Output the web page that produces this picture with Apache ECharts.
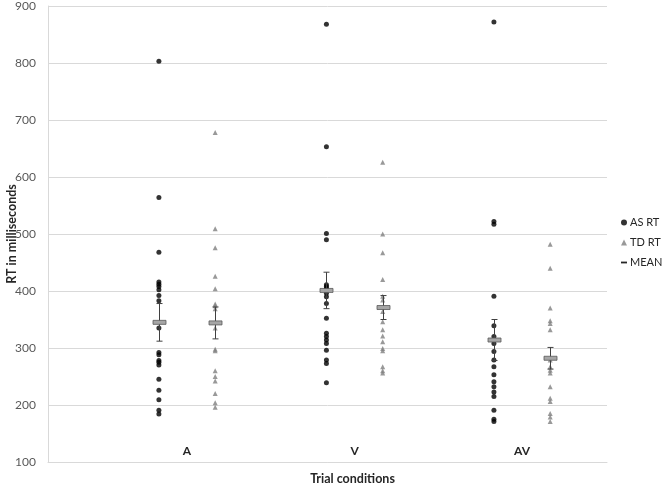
<!DOCTYPE html>
<html>
<head>
<meta charset="utf-8">
<script src="https://cdn.jsdelivr.net/npm/echarts@6/dist/echarts.min.js"></script>
<style>html,body{margin:0;padding:0;background:#fff;}#c{width:664px;height:484px;}</style>
</head>
<body>
<div id="c"></div>
<script>
var categories = ['A', 'V', 'AV'];
var yTicks = [100, 200, 300, 400, 500, 600, 700, 800, 900];

var asA  = [803, 564, 468, 416, 412, 408, 402, 392, 383, 335, 292, 288, 278, 275, 270, 245, 226, 209, 191, 184];
var asV  = [868, 653, 501, 490, 411, 408, 405, 402, 396, 390, 378, 352, 326, 320, 314, 308, 296, 279, 273, 239];
var asAV = [872, 522, 517, 391, 339, 320, 308, 294, 279, 267, 253, 241, 232, 223, 215, 191, 175, 171];

var tdA  = [678, 509, 476, 426, 404, 377, 374, 369, 335, 298, 295, 260, 250, 242, 220, 204, 196];
var tdV  = [626, 500, 467, 420, 391, 384, 364, 346, 332, 321, 311, 299, 295, 267, 260, 256];
var tdAV = [482, 440, 370, 348, 343, 332, 279, 267, 261, 256, 232, 212, 206, 185, 179, 171];

var asMean = [345, 401, 314];
var asErr  = [33, 32, 36];
var tdMean = [344, 371, 282];
var tdErr  = [28, 21, 19];

var OFF = 0.168;
var asGroups = [asA, asV, asAV];
var tdGroups = [tdA, tdV, tdAV];

function pts(groups, off) {
  var out = [];
  groups.forEach(function (g, i) {
    g.forEach(function (v) { out.push([i + 1 + off, v]); });
  });
  return out;
}
var meanData = [];
categories.forEach(function (c, i) {
  meanData.push([i + 1 - OFF, asMean[i], asErr[i]]);
  meanData.push([i + 1 + OFF, tdMean[i], tdErr[i]]);
});

var font = 'Lato, "Open Sans", sans-serif';
var chart = echarts.init(document.getElementById('c'));
chart.setOption({
  animation: false,
  textStyle: { fontFamily: font },
  grid: { left: 48, right: 57, top: 6, bottom: 22, containLabel: false, outerBoundsMode: 'none' },
  legend: {
    orient: 'vertical',
    left: 621,
    top: 216,
    itemWidth: 6,
    itemHeight: 6,
    itemGap: 7,
    padding: 0,
    textStyle: { fontSize: 11, color: '#262626', fontFamily: font, lineHeight: 13, padding: [0, 0, 0, -2] },
    data: [
      { name: 'AS RT', icon: 'circle' },
      { name: 'TD RT', icon: 'triangle' },
      { name: 'MEAN', icon: 'path://M0,0h10v3h-10z', itemStyle: { color: '#262626', borderWidth: 0 } }
    ]
  },
  xAxis: {
    type: 'value',
    min: 0.17,
    max: 3.507,
    name: 'Trial conditions',
    nameLocation: 'middle',
    nameGap: 10,
    nameMoveOverlap: false,
    nameTextStyle: { fontSize: 12.5, fontWeight: 'bold', color: '#262626', padding: [0, 0, 0, 50] },
    splitLine: { show: false },
    axisTick: { show: false },
    axisLine: { show: true, lineStyle: { color: '#d9d9d9' } },
    axisLabel: {
      customValues: [1, 2, 3],
      margin: -17,
      fontSize: 12,
      fontWeight: 'bold',
      color: '#262626',
      formatter: function (v) { return categories[Math.round(v) - 1] || ''; }
    }
  },
  yAxis: {
    type: 'value',
    min: yTicks[0],
    max: yTicks[yTicks.length - 1],
    interval: 100,
    name: 'RT in milliseconds',
    nameLocation: 'middle',
    nameGap: 30,
    nameMoveOverlap: false,
    nameTextStyle: { fontSize: 12.5, fontWeight: 'bold', color: '#262626' },
    axisLine: { show: true, lineStyle: { color: '#d9d9d9' } },
    axisTick: { show: false },
    splitLine: { show: true, lineStyle: { color: '#d9d9d9' } },
    axisLabel: { fontSize: 12, color: '#595959', margin: 12 }
  },
  series: [
    {
      name: 'AS RT', type: 'scatter', symbol: 'circle', symbolSize: 5,
      itemStyle: { color: '#000000' },
      data: pts(asGroups, -OFF), z: 2
    },
    {
      name: 'TD RT', type: 'scatter', symbol: 'triangle', symbolSize: 5,
      itemStyle: { color: '#808080' },
      data: pts(tdGroups, OFF), z: 2
    },
    {
      name: 'MEAN', type: 'custom',
      itemStyle: { color: '#262626' },
      data: meanData, z: 5,
      renderItem: function (params, api) {
        var x = api.value(0), m = api.value(1), e = api.value(2);
        var c = api.coord([x, m]);
        var t = api.coord([x, m + e]);
        var b = api.coord([x, m - e]);
        var cx = Math.round(c[0]) + 0.5;
        var lineStyle = { stroke: '#404040', lineWidth: 1 };
        return {
          type: 'group',
          children: [
            { type: 'line', shape: { x1: cx, y1: t[1], x2: cx, y2: b[1] }, style: lineStyle },
            { type: 'line', shape: { x1: cx - 3, y1: t[1], x2: cx + 3, y2: t[1] }, style: lineStyle },
            { type: 'line', shape: { x1: cx - 3, y1: b[1], x2: cx + 3, y2: b[1] }, style: lineStyle },
            { type: 'rect', shape: { x: cx - 6.5, y: c[1] - 2, width: 13, height: 4 },
              style: { fill: '#a6a6a6', stroke: '#595959', lineWidth: 0.8 } }
          ]
        };
      }
    }
  ]
});
</script>
</body>
</html>
